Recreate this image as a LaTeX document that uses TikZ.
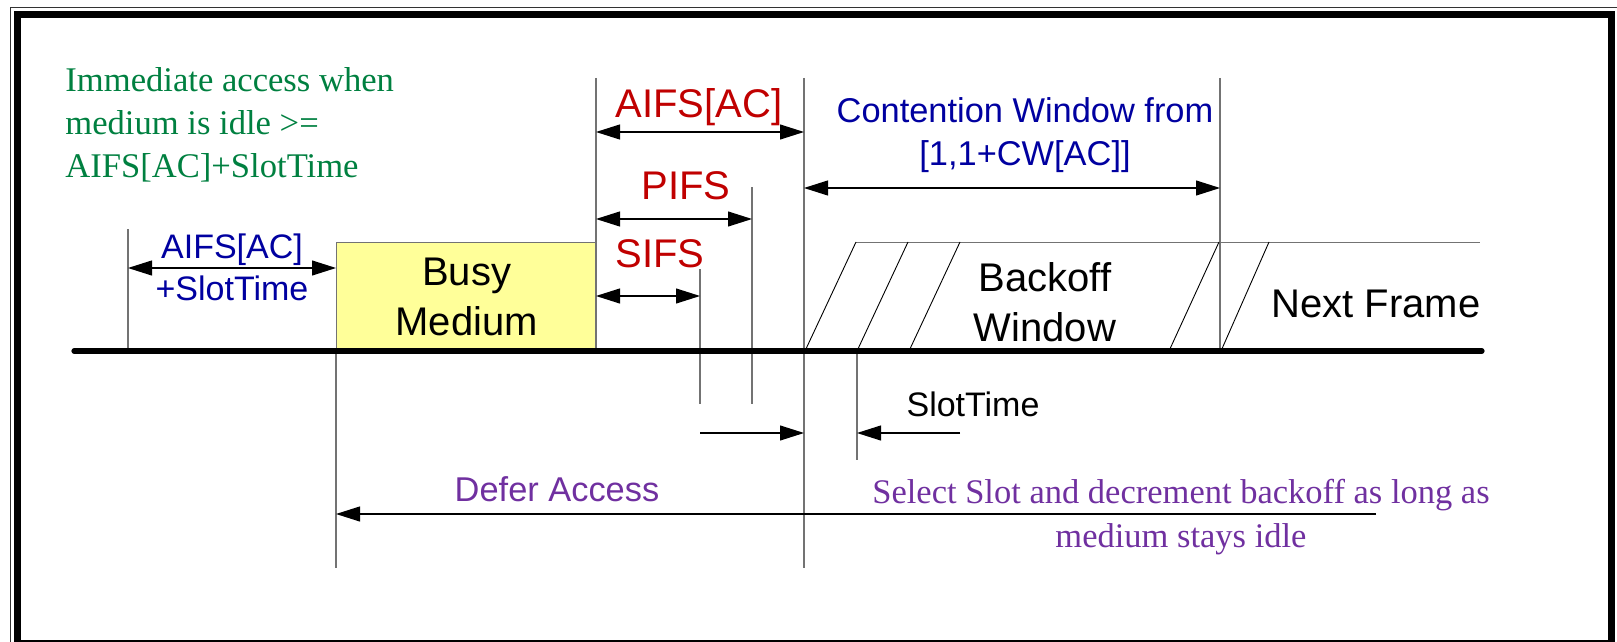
\documentclass[tikz,border=0pt]{standalone}
\usepackage{fontspec}
\setmainfont{Liberation Serif}
\setsansfont{Liberation Sans}
\usetikzlibrary{arrows.meta}

\definecolor{guidegray}{RGB}{115,115,115}
\definecolor{accgreen}{RGB}{0,128,64}
\definecolor{accred}{RGB}{192,0,0}
\definecolor{accblue}{RGB}{0,0,160}
\definecolor{accpurple}{RGB}{112,48,160}
\definecolor{busyfill}{RGB}{255,255,153}

\begin{document}
\begin{tikzpicture}[x=0.5pt,y=-0.5pt,
  >={Triangle[length=12pt,width=7.5pt]},
  guide/.style={draw=guidegray,line width=0.7pt},
  dimline/.style={draw=black,line width=0.55pt},
  slant/.style={draw=black,line width=0.45pt},
  sanslbl/.style={font=\sffamily\fontsize{#1}{#1}\selectfont,inner sep=0pt,anchor=base,align=center},
  seriflbl/.style={font=\rmfamily\fontsize{17.3}{21.5}\selectfont,inner sep=0pt,anchor=base},
]
\useasboundingbox (0,0) rectangle (1617,642);

% double frame: thin outer rule, heavy inner rule
\draw[line width=0.5pt,black!80] (10.5,660) -- (10.5,7.5) -- (1640,7.5);
\draw[line width=3.4pt] (17.5,14.5) rectangle (1611.5,643);

% reference instants
\coordinate (t0top) at (128,229);   \coordinate (t0) at (128,351);
\coordinate (t1low) at (336,568);
\coordinate (t2top) at (596,78);    \coordinate (t2) at (596,351);
\coordinate (sifstop) at (700,269); \coordinate (sifslow) at (700,404);
\coordinate (pifstop) at (752,187); \coordinate (pifslow) at (752,404);
\coordinate (t3top) at (804,78);    \coordinate (t3low) at (804,568);
\coordinate (slot) at (857,351);    \coordinate (slotlow) at (857,460);
\coordinate (t4top) at (1220,78);   \coordinate (t4) at (1220,351);
\coordinate (lineL) at (74,351);    \coordinate (lineR) at (1482,351);

% busy medium
\node[draw=guidegray,line width=0.7pt,fill=busyfill,minimum width=130pt,minimum height=54.5pt,
      inner sep=0pt,anchor=north west,align=center,font=\sffamily\fontsize{20}{25}\selectfont]
      (busy) at (336,242) {Busy\\Medium};

% vertical guides
\draw[guide] (t0top) -- (t0);
\draw[guide] (busy.south west) -- (t1low);
\draw[guide] (t2top) -- (t2);
\draw[guide] (sifstop) -- (sifslow);
\draw[guide] (pifstop) -- (pifslow);
\draw[guide] (t3top) -- (t3low);
\draw[guide] (slot) -- (slotlow);
\draw[guide] (t4top) -- (t4);

% backoff slots and next frame
\coordinate (bwtop) at (856,242);
\coordinate (bwend) at (1480,242);
\draw[guide,line width=0.5pt] (bwtop) -- (bwend);
\draw[slant] (805,351) -- (bwtop);
\draw[slant] (857,351) -- (908,242);
\draw[slant] (909,351) -- (960,242);
\draw[slant] (1169,351) -- (1219,242);
\draw[slant] (1221,351) -- (1269,242);

% medium time line
\draw[line width=2.6pt,line cap=round] (lineL) -- (lineR);

% interval arrows
\coordinate (a1l) at (128,268);  \coordinate (a1r) at (336,268);
\coordinate (a2l) at (596,132);  \coordinate (a2r) at (804,132);
\coordinate (a3l) at (596,219);  \coordinate (a3r) at (752,219);
\coordinate (a4l) at (596,296);  \coordinate (a4r) at (700,296);
\coordinate (a5l) at (700,433);  \coordinate (a5r) at (804,433);
\coordinate (a6l) at (857,433);  \coordinate (a6r) at (960,433);
\coordinate (a7l) at (804,188);  \coordinate (a7r) at (1220,188);
\coordinate (a8l) at (336,514);  \coordinate (a8r) at (1376,514);

\draw[dimline,<->] (a1l) -- (a1r);
\draw[dimline,<->] (a2l) -- (a2r);
\draw[dimline,<->] (a3l) -- (a3r);
\draw[dimline,<->] (a4l) -- (a4r);
\draw[dimline,->] (a5l) -- (a5r);
\draw[dimline,->] (a6r) -- (a6l);
\draw[dimline,<->] (a7l) -- (a7r);
\draw[dimline,->] (a8r) -- (a8l);

% labels (multi-line labels sit on the baseline of their last line)
\node[seriflbl,anchor=base west,text=accgreen,align=left] (immediate) at (65,177)
  {Immediate access when\\medium is idle >=\\AIFS[AC]+SlotTime};
\node[sanslbl=17,text=accblue,font=\sffamily\fontsize{17}{21}\selectfont] (aifsslot) at (232,300) {AIFS[AC]\\+SlotTime};
\node[sanslbl=20,text=accred] (aifs) at (699,118) {AIFS[AC]};
\node[sanslbl=20,text=accred] (pifs) at (686,199) {PIFS};
\node[sanslbl=20,text=accred] (sifs) at (660,267) {SIFS};
\node[sanslbl=17.2,text=accblue,font=\sffamily\fontsize{17.2}{21}\selectfont] (cw) at (1025,165) {Contention Window from\\{}[1,1+CW[AC]]};
\node[sanslbl=20,font=\sffamily\fontsize{20}{25}\selectfont] (backoff) at (1045,341) {Backoff\\Window};
\node[sanslbl=20] (next) at (1376,317) {Next Frame};
\node[sanslbl=17] (slotlbl) at (973,416) {SlotTime};
\node[sanslbl=17.2,text=accpurple] (defer) at (557,501) {Defer Access};
\node[seriflbl,text=accpurple,align=center,font=\rmfamily\fontsize{17.25}{22}\selectfont] (select) at (1181,547)
  {Select Slot and decrement backoff as long as\\medium stays idle};
\end{tikzpicture}
\end{document}
